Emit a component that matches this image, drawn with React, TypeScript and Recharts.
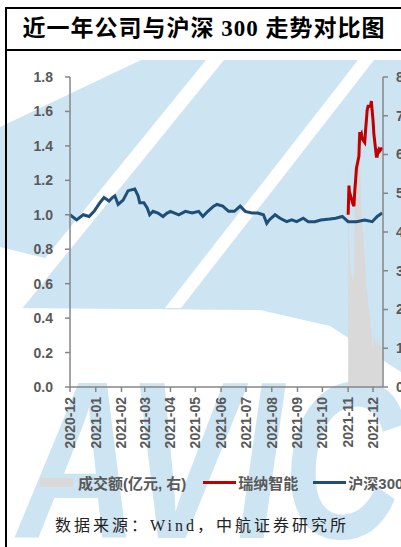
import React from "react";
import { ComposedChart, Area, Line, XAxis, YAxis } from "recharts";

// 起点：2020-12-02，横轴按日历日计
const START = "2020-12-02";

const monthTicks = [
  "2020-12-02", "2021-01-02", "2021-02-02", "2021-03-02", "2021-04-02",
  "2021-05-02", "2021-06-02", "2021-07-02", "2021-08-02", "2021-09-02",
  "2021-10-02", "2021-11-02", "2021-12-02",
];
const monthLabels = [
  "2020-12", "2021-01", "2021-02", "2021-03", "2021-04", "2021-05", "2021-06",
  "2021-07", "2021-08", "2021-09", "2021-10", "2021-11", "2021-12",
];

// 沪深300（归一化）
const hsDates = [
  "2020-12-02", "2020-12-10", "2020-12-18", "2020-12-25", "2020-12-31",
  "2021-01-07", "2021-01-12", "2021-01-18", "2021-01-22", "2021-01-25",
  "2021-01-29", "2021-02-04", "2021-02-10", "2021-02-18", "2021-02-22",
  "2021-02-24", "2021-03-01", "2021-03-05", "2021-03-08", "2021-03-12",
  "2021-03-18", "2021-03-24", "2021-03-29", "2021-04-02", "2021-04-12",
  "2021-04-20", "2021-04-28", "2021-05-06", "2021-05-11", "2021-05-17",
  "2021-05-24", "2021-05-28", "2021-06-04", "2021-06-11", "2021-06-18",
  "2021-06-25", "2021-07-01", "2021-07-09", "2021-07-16", "2021-07-23",
  "2021-07-27", "2021-07-30", "2021-08-06", "2021-08-12", "2021-08-20",
  "2021-08-26", "2021-09-01", "2021-09-09", "2021-09-15", "2021-09-23",
  "2021-09-30", "2021-10-11", "2021-10-18", "2021-10-26", "2021-11-02",
  "2021-11-12", "2021-11-22", "2021-12-01", "2021-12-07", "2021-12-13",
];
const hsValues = [
  1.0, 0.97, 1.0, 0.99, 1.02,
  1.07, 1.1, 1.08, 1.1, 1.11,
  1.06, 1.085, 1.14, 1.15, 1.11,
  1.07, 1.07, 1.04, 1.0, 1.02,
  1.01, 0.99, 1.01, 1.02, 1.0,
  1.02, 1.01, 1.02, 0.99, 1.02,
  1.05, 1.06, 1.05, 1.02, 1.02,
  1.05, 1.02, 1.01, 1.01, 1.0,
  0.95, 0.97, 1.0, 0.98, 0.96,
  0.97, 0.96, 0.98, 0.96, 0.96,
  0.97, 0.975, 0.98, 0.99, 0.96,
  0.96, 0.97, 0.96, 0.99, 1.01,
];

// 瑞纳智能（上市后）与成交额
const rnDates = [
  "2021-11-02", "2021-11-03", "2021-11-04", "2021-11-05", "2021-11-08",
  "2021-11-09", "2021-11-10", "2021-11-11", "2021-11-12", "2021-11-15",
  "2021-11-16", "2021-11-17", "2021-11-18", "2021-11-19", "2021-11-22",
  "2021-11-23", "2021-11-24", "2021-11-25", "2021-11-26", "2021-11-29",
  "2021-11-30", "2021-12-01", "2021-12-02", "2021-12-03", "2021-12-06",
  "2021-12-07", "2021-12-08", "2021-12-09", "2021-12-10", "2021-12-13",
];
const rnValues = [
  1.0, 1.17, 1.1, 1.11, 1.06,
  1.05, 1.14, 1.2, 1.27, 1.34,
  1.48, 1.46, 1.47, 1.44, 1.42,
  1.49, 1.55, 1.61, 1.63, 1.63,
  1.66, 1.6, 1.55, 1.47, 1.34,
  1.34, 1.37, 1.38, 1.37, 1.39,
];
const volValues = [
  6.5, 4.0, 3.3, 3.0, 2.7,
  3.0, 4.5, 5.5, 6.3, 6.6,
  6.0, 5.2, 4.6, 4.2, 3.3,
  2.9, 2.6, 2.4, 2.2, 1.7,
  1.4, 1.1, 1.0, 1.3, 1.1,
  1.3, 1.0, 1.2, 1.1, 1.0,
];

const leftTicks = [0, 0.2, 0.4, 0.6, 0.8, 1.0, 1.2, 1.4, 1.6, 1.8];
const rightTicks = [0, 1, 2, 3, 4, 5, 6, 7, 8];

const dayOf = (s: string) =>
  Math.round((Date.parse(s) - Date.parse(START)) / 86400000);

const tickDays = monthTicks.map(dayOf);

const rowMap = new Map<number, any>();
const row = (d: number) => {
  if (!rowMap.has(d)) rowMap.set(d, { d });
  return rowMap.get(d);
};
hsDates.forEach((s, i) => (row(dayOf(s)).hs = hsValues[i]));
rnDates.forEach((s, i) => {
  const r = row(dayOf(s));
  r.rn = rnValues[i];
  r.vol = volValues[i];
});
const data = Array.from(rowMap.values()).sort((a, b) => a.d - b.d);

const SANS = '"Liberation Sans", Arial, "Noto Sans CJK SC", sans-serif';
const SERIF = '"Liberation Serif", "Noto Sans CJK SC", serif';
const LABEL = "#595959";
const AXIS = "#868686";
const WATER = "#cde4f3";

function DateTick({ x, y, payload }: any) {
  const i = tickDays.indexOf(payload.value);
  return (
    <g transform={`translate(${x},${y + 3}) rotate(-90)`}>
      <text
        textAnchor="end"
        dominantBaseline="central"
        fill={LABEL}
        fontSize={14}
        fontWeight={700}
        fontFamily={SANS}
      >
        {monthLabels[i]}
      </text>
    </g>
  );
}

function Watermark() {
  return (
    <svg width={401} height={547} style={{ position: "absolute", left: 0, top: 0 }}>
      <polygon
        points="0,127 141,60 401,60 401,372 330,326 260,310 10,308 45,258 0,247"
        fill={WATER}
      />
      <polygon points="3,310 21,310 224,60 206,60" fill="#ffffff" />
      <polygon points="165,308 181,308 374,60 358,60" fill="#ffffff" />
      <text
        x={18}
        y={538}
        fontSize={225}
        fontWeight={900}
        fontStyle="italic"
        fontFamily={SANS}
        textLength={385}
        lengthAdjust="spacingAndGlyphs"
        fill={WATER}
      >
        AVIC
      </text>
    </svg>
  );
}

export default function App() {
  return (
    <div
      style={{
        position: "absolute",
        left: 0,
        top: 0,
        width: 401,
        height: 547,
        overflow: "hidden",
        background: "#ffffff",
      }}
    >
      <Watermark />

      {/* 边框 */}
      <div style={{ position: "absolute", left: 5, top: 7, width: 2, height: 540, background: "#000" }} />
      <div style={{ position: "absolute", left: 5, top: 7, width: 396, height: 2, background: "#000" }} />
      <div style={{ position: "absolute", left: 5, top: 49, width: 396, height: 2, background: "#000" }} />

      <div
        style={{
          position: "absolute",
          left: 7,
          top: 9,
          width: 394,
          height: 40,
          lineHeight: "40px",
          textAlign: "center",
          fontFamily: SERIF,
          fontWeight: 700,
          fontSize: 23,
          letterSpacing: 1,
          color: "#000",
        }}
      >
        近一年公司与沪深 300 走势对比图
      </div>

      <div style={{ position: "absolute", left: 0, top: 0 }}>
        <ComposedChart
          width={401}
          height={470}
          data={data}
          margin={{ top: 77, right: 0, bottom: 23, left: 30 }}
        >
          <XAxis
            dataKey="d"
            type="number"
            domain={[0, 377]}
            ticks={tickDays}
            interval={0}
            tick={<DateTick />}
            tickSize={5}
            height={60}
            stroke={AXIS}
            strokeWidth={1.5}
          />
          <YAxis
            yAxisId="left"
            domain={[0, 1.8]}
            ticks={leftTicks}
            tickFormatter={(v: number) => v.toFixed(1)}
            width={40}
            tickSize={5}
            tickMargin={12}
            stroke={AXIS}
            strokeWidth={1.5}
            tick={{ fill: LABEL, fontSize: 14, fontWeight: 700, fontFamily: SANS }}
          />
          <YAxis
            yAxisId="right"
            orientation="right"
            domain={[0, 8]}
            ticks={rightTicks}
            width={18}
            tickSize={5}
            tickMargin={8}
            stroke={AXIS}
            strokeWidth={1.5}
            tick={{ fill: LABEL, fontSize: 14, fontWeight: 700, fontFamily: SANS }}
          />
          <Area
            yAxisId="right"
            dataKey="vol"
            type="linear"
            stroke="none"
            fill="#d9d9d9"
            fillOpacity={1}
            connectNulls
            isAnimationActive={false}
          />
          <Line
            yAxisId="left"
            dataKey="rn"
            type="linear"
            stroke="#c00000"
            strokeWidth={3}
            dot={false}
            connectNulls
            isAnimationActive={false}
          />
          <Line
            yAxisId="left"
            dataKey="hs"
            type="linear"
            stroke="#1f4e79"
            strokeWidth={3}
            dot={false}
            connectNulls
            isAnimationActive={false}
          />
        </ComposedChart>
      </div>

      {/* 图例 */}
      <div
        style={{
          position: "absolute",
          left: 40,
          top: 472,
          height: 20,
          display: "flex",
          alignItems: "center",
          whiteSpace: "nowrap",
          fontFamily: SANS,
          fontWeight: 700,
          fontSize: 15,
          color: LABEL,
        }}
      >
        <span style={{ display: "inline-block", width: 33, height: 9, background: "#d9d9d9", marginRight: 5 }} />
        <span>成交额(亿元, 右)</span>
        <span style={{ display: "inline-block", width: 33, height: 3, background: "#c00000", marginLeft: 17, marginRight: 2 }} />
        <span>瑞纳智能</span>
        <span style={{ display: "inline-block", width: 33, height: 3, background: "#1f4e79", marginLeft: 15, marginRight: 2 }} />
        <span>沪深300</span>
      </div>

      <div
        style={{
          position: "absolute",
          left: 55,
          top: 512,
          whiteSpace: "nowrap",
          fontFamily: SERIF,
          fontSize: 16,
          letterSpacing: 3,
          color: "#222",
        }}
      >
        数据来源：Wind，中航证券研究所
      </div>
    </div>
  );
}
